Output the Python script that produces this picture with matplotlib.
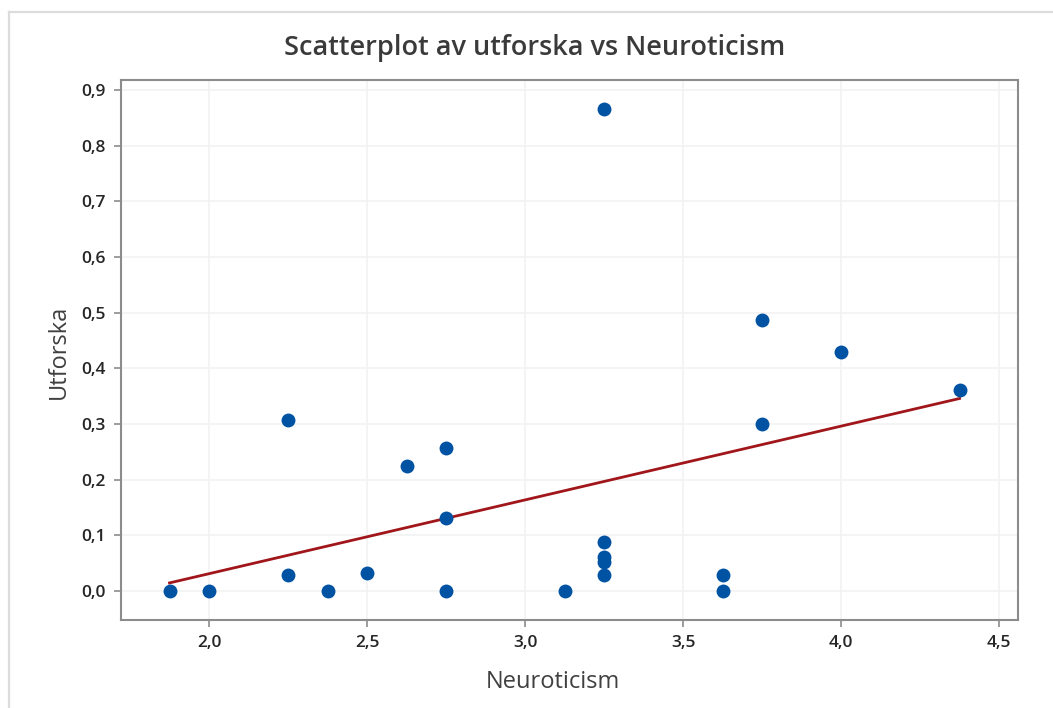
import numpy as np
import matplotlib
matplotlib.use("Agg")
import matplotlib.pyplot as plt
from matplotlib.lines import Line2D
from matplotlib.ticker import FuncFormatter, MultipleLocator

plt.rcParams["font.family"] = ["Open Sans", "DejaVu Sans"]

# data
neuroticism = [1.875, 2.0, 2.25, 2.25, 2.375, 2.5, 2.625, 2.75, 2.75, 2.75, 3.125,
               3.25, 3.25, 3.25, 3.25, 3.25, 3.625, 3.625, 3.75, 3.75, 4.0, 4.375]
utforska = [0.0, 0.0, 0.029, 0.307, 0.0, 0.032, 0.224, 0.257, 0.131, 0.0, 0.0,
            0.866, 0.088, 0.062, 0.053, 0.029, 0.029, 0.0, 0.487, 0.300, 0.429, 0.361]

title = "Scatterplot av utforska vs Neuroticism"
xlabel = "Neuroticism"
ylabel = "Utforska"

x = np.array(neuroticism)
y = np.array(utforska)
slope, intercept = np.polyfit(x, y, 1)
fit_x = np.array([x.min(), x.max()])
fit_y = intercept + slope * fit_x

fig = plt.figure(figsize=(10.53, 7.08), dpi=100)
ax = fig.add_axes([0.1149, 0.1243, 0.8519, 0.7627])

ax.plot(fit_x, fit_y, color="#A0161B", lw=2.0, zorder=2)
ax.scatter(x, y, s=100, color="#0052A3", marker="o", linewidths=0, zorder=3)

ax.set_xlim(1.7215, 4.56)
ax.set_ylim(-0.052, 0.918)
ax.xaxis.set_major_locator(MultipleLocator(0.5))
ax.yaxis.set_major_locator(MultipleLocator(0.1))
comma = FuncFormatter(lambda v, p: f"{v:.1f}".replace(".", ","))
ax.xaxis.set_major_formatter(comma)
ax.yaxis.set_major_formatter(comma)

ax.grid(True, color="#F2F2F2", lw=1.2, zorder=0)
ax.set_axisbelow(True)
for s in ax.spines.values():
    s.set_color("#8C8C8C")
    s.set_linewidth(1.5)
ax.tick_params(colors="#8C8C8C", length=5, width=1.2, labelcolor="#262626",
               labelsize=12.5, pad=6)
for lab in ax.get_xticklabels() + ax.get_yticklabels():
    lab.set_fontweight("semibold")

ax.set_xlabel(xlabel, fontsize=17, color="#404040", fontweight="medium")
ax.set_ylabel(ylabel, fontsize=17, color="#404040", fontweight="medium")
ax.xaxis.set_label_coords(0.482, -0.093)
ax.yaxis.set_label_coords(-0.056, 0.497)
fig.text(0.508, 0.932, title, ha="center", va="center", fontsize=19.5,
         color="#3A3A3A", fontweight="semibold")

# light frame of the original screenshot
fig.add_artist(Line2D([9 / 1053, 1.0], [1 - 11.5 / 708, 1 - 11.5 / 708],
                      transform=fig.transFigure, color="#DCDCDC", lw=1.6))
fig.add_artist(Line2D([9 / 1053, 9 / 1053], [0.0, 1 - 11.5 / 708],
                      transform=fig.transFigure, color="#DCDCDC", lw=1.6))

fig.savefig("out.png", dpi=100)
